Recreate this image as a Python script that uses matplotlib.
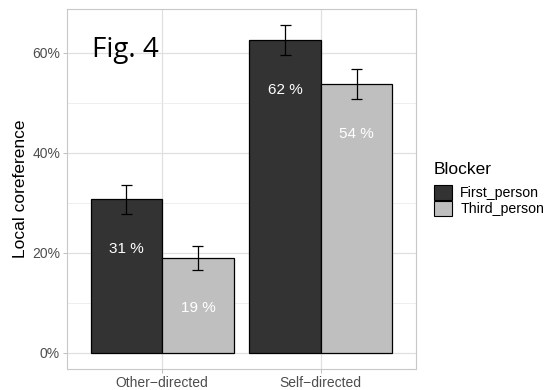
import numpy as np
import matplotlib.pyplot as plt
from matplotlib.patches import Patch

# Values (proportion local coreference, %)
conditions = ['Other\u2212directed', 'Self\u2212directed']
blockers = ['First_person', 'Third_person']
first_person = [30.8, 62.5]
third_person = [18.9, 53.7]
first_err_low = [27.8, 59.5]
first_err_high = [33.5, 65.5]
third_err_low = [16.5, 50.7]
third_err_high = [21.3, 56.8]
colors = ['#333333', '#bfbfbf']

plt.rcParams['font.family'] = ['Liberation Sans', 'DejaVu Sans']

fig = plt.figure(figsize=(5.47, 3.9), dpi=100)
ax = fig.add_axes([0.1225, 0.054, 0.638, 0.923])

x = np.arange(len(conditions))
w = 0.45
cap = 0.034
series = [
    (first_person, first_err_low, first_err_high, colors[0], -w / 2),
    (third_person, third_err_low, third_err_high, colors[1], w / 2),
]
for vals, lo, hi, col, off in series:
    ax.bar(x + off, vals, width=w, color=col, edgecolor='black', linewidth=0.9, zorder=3)
    ax.vlines(x + off, lo, hi, color='black', linewidth=0.9, zorder=4)
    ax.hlines(lo, x + off - cap, x + off + cap, color='black', linewidth=0.9, zorder=4)
    ax.hlines(hi, x + off - cap, x + off + cap, color='black', linewidth=0.9, zorder=4)
    for xi, v in zip(x + off, vals):
        ax.text(xi, v - 10, f'{round(v)} %', ha='center', va='center',
                color='white', fontsize=11, zorder=5)

ax.set_xlim(-0.6, 1.6)
ax.set_ylim(-3.28, 68.8)
ax.set_xticks(x)
ax.set_xticklabels(conditions)
ax.set_yticks([0, 20, 40, 60])
ax.set_yticklabels(['0%', '20%', '40%', '60%'])
ax.set_yticks([10, 30, 50], minor=True)
ax.grid(True, which='major', color='#e0e0e0', linewidth=0.9, zorder=0)
ax.grid(True, which='minor', axis='y', color='#ebebeb', linewidth=0.6, zorder=0)
ax.tick_params(axis='both', which='major', colors='#b3b3b3', length=3, width=0.6,
               labelcolor='#4d4d4d', labelsize=10, pad=2)
ax.tick_params(axis='y', which='minor', length=0)
for s in ax.spines.values():
    s.set_color('#c8c8c8')
    s.set_linewidth(0.8)
ax.set_ylabel('Local coreference', fontsize=12.5, labelpad=3)

ax.text(0.073, 0.885, 'Fig. 4', transform=ax.transAxes, fontsize=20,
        family=['Open Sans', 'DejaVu Sans'], va='center', ha='left', zorder=6)

handles = [Patch(facecolor=c, edgecolor='black', linewidth=0.8) for c in colors]
leg = fig.legend(handles, blockers, title='Blocker', loc='upper left',
                 bbox_to_anchor=(0.783, 0.6), frameon=False, fontsize=10.2,
                 title_fontsize=12.5, handlelength=1.25, handleheight=1.3,
                 handletextpad=0.6, labelspacing=0.02, borderaxespad=0)
leg._legend_box.align = 'left'
leg._legend_box.sep = 6

fig.savefig('out.png', dpi=100)
